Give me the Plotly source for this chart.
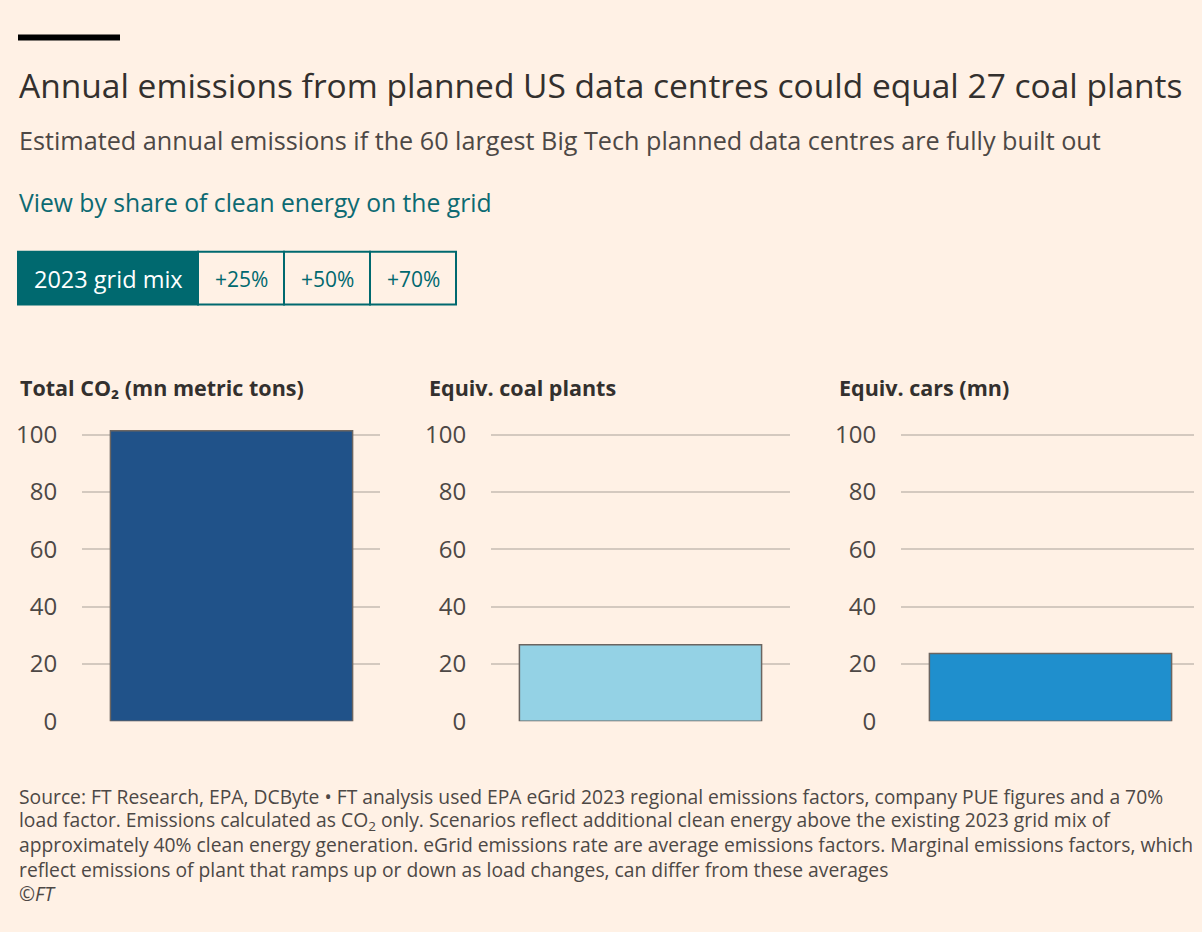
import plotly.graph_objects as go

# --- data (2023 grid mix scenario) ---
panels = ["Total CO₂ (mn metric tons)", "Equiv. coal plants", "Equiv. cars (mn)"]
values = [101.4, 26.7, 23.7]
bar_colors = ["#205289", "#94d2e5", "#1f8fcd"]
tick_vals = [0, 20, 40, 60, 80, 100]
scenarios = ["2023 grid mix", "+25%", "+50%", "+70%"]

footer_lines = [
    "Source: FT Research, EPA, DCByte • FT analysis used EPA eGrid 2023 regional emissions factors, company PUE figures and a 70%",
    "load factor. Emissions calculated as CO<sub>2</sub> only. Scenarios reflect additional clean energy above the existing 2023 grid mix of",
    "approximately 40% clean energy generation. eGrid emissions rate are average emissions factors. Marginal emissions factors, which",
    "reflect emissions of plant that ramps up or down as load changes, can differ from these averages",
    "<i>©FT</i>",
]

# page is 1202x932; body keeps its 8px margin, so the figure is a bit smaller
PAD = 8
FW, FH = 1202 - 2 * PAD, 932 - 2 * PAD
BG = "#fff1e5"
TEAL = "#00696f"
FONT = "'Open Sans', sans-serif"
# the screenshot comes out squeezed vertically a little; undo that
SY, OY = 0.98, 5.7


def px(x):
    return (x - PAD) / FW


def py(y):
    return 1 - ((y - OY) / SY - PAD) / FH


# plot areas in target pixels (last one is cut at the figure edge)
x_doms = [(82, 380), (491, 790), (901, 1194)]
full_w = 299
y_bottom, y_top = 723, 424

fig = go.Figure()
for i, (name, v, c) in enumerate(zip(panels, values, bar_colors)):
    n = "" if i == 0 else str(i + 1)
    x0, x1 = x_doms[i]
    fig.add_trace(go.Bar(
        x=[0], y=[v], marker=dict(color=c, line=dict(color="#6b6561", width=1.5)),
        xaxis="x" + n, yaxis="y" + n, width=0.81, hoverinfo="y", name=name,
    ))
    fig.layout["xaxis" + n] = dict(
        domain=[px(x0), px(x1)], anchor="y" + n, range=[-0.5, -0.5 + (x1 - x0) / full_w],
        showticklabels=False, showgrid=False, zeroline=False, fixedrange=True,
    )
    fig.layout["yaxis" + n] = dict(
        domain=[py(y_bottom), py(y_top)], anchor="x" + n, range=[0, 104],
        tickvals=tick_vals, showgrid=True, gridcolor="#d4c9bf", gridwidth=1.5,
        zeroline=False, ticks="outside", ticklen=19, tickcolor="rgba(0,0,0,0)",
        tickfont=dict(size=24, color="#4d4845", family=FONT), fixedrange=True,
    )
    fig.add_annotation(
        x=px(x0 - 64), y=py(388),
        text="<b>" + name + "</b>",
        font=dict(size=21.5, color="#33302e", family=FONT),
    )

# headline texts
fig.add_annotation(x=px(17), y=py(85), text="Annual emissions from planned US data centres could equal 27 coal plants",
                   font=dict(size=33.5, color="#33302e", family=FONT))
fig.add_annotation(x=px(17), y=py(140), text="Estimated annual emissions if the 60 largest Big Tech planned data centres are fully built out",
                   font=dict(size=25.2, color="#4d4845", family=FONT))
fig.add_annotation(x=px(17), y=py(203), text="View by share of clean energy on the grid",
                   font=dict(size=24.7, color="#0d6a72", family=FONT))

# scenario buttons
btn_edges = [18, 198, 284, 370, 456]
for j, label in enumerate(scenarios):
    b0, b1 = btn_edges[j], btn_edges[j + 1]
    active = j == 0
    fig.add_shape(type="rect", xref="paper", yref="paper",
                  x0=px(b0), x1=px(b1), y0=py(305), y1=py(252),
                  fillcolor=TEAL if active else BG, line=dict(color=TEAL, width=2))
    fig.add_annotation(x=px((b0 + b1) / 2), y=py(279), xanchor="center", text=label,
                       font=dict(size=23.5 if active else 21, color="white" if active else TEAL,
                                 family=FONT))

# black rule
fig.add_shape(type="rect", xref="paper", yref="paper", x0=px(18), x1=px(120),
              y0=py(40), y1=py(34), fillcolor="#000000", line=dict(width=0))

# footer
for k, line in enumerate(footer_lines):
    fig.add_annotation(x=px(17), y=py(798 + 24.5 * k), text=line,
                       font=dict(size=19.3, color="#4d4845", family=FONT))

fig.update_annotations(xref="paper", yref="paper", showarrow=False, yanchor="middle")
for a in fig.layout.annotations:
    if a.xanchor is None:
        a.xanchor = "left"
        a.align = "left"

fig.update_layout(
    width=FW, height=FH, margin=dict(l=0, r=0, t=0, b=0),
    paper_bgcolor=BG, plot_bgcolor=BG, showlegend=False, bargap=0.19,
    font=dict(family=FONT),
)
fig.write_html("out.html", config={"displayModeBar": False},
               post_script="document.body.style.background='%s';" % BG)
